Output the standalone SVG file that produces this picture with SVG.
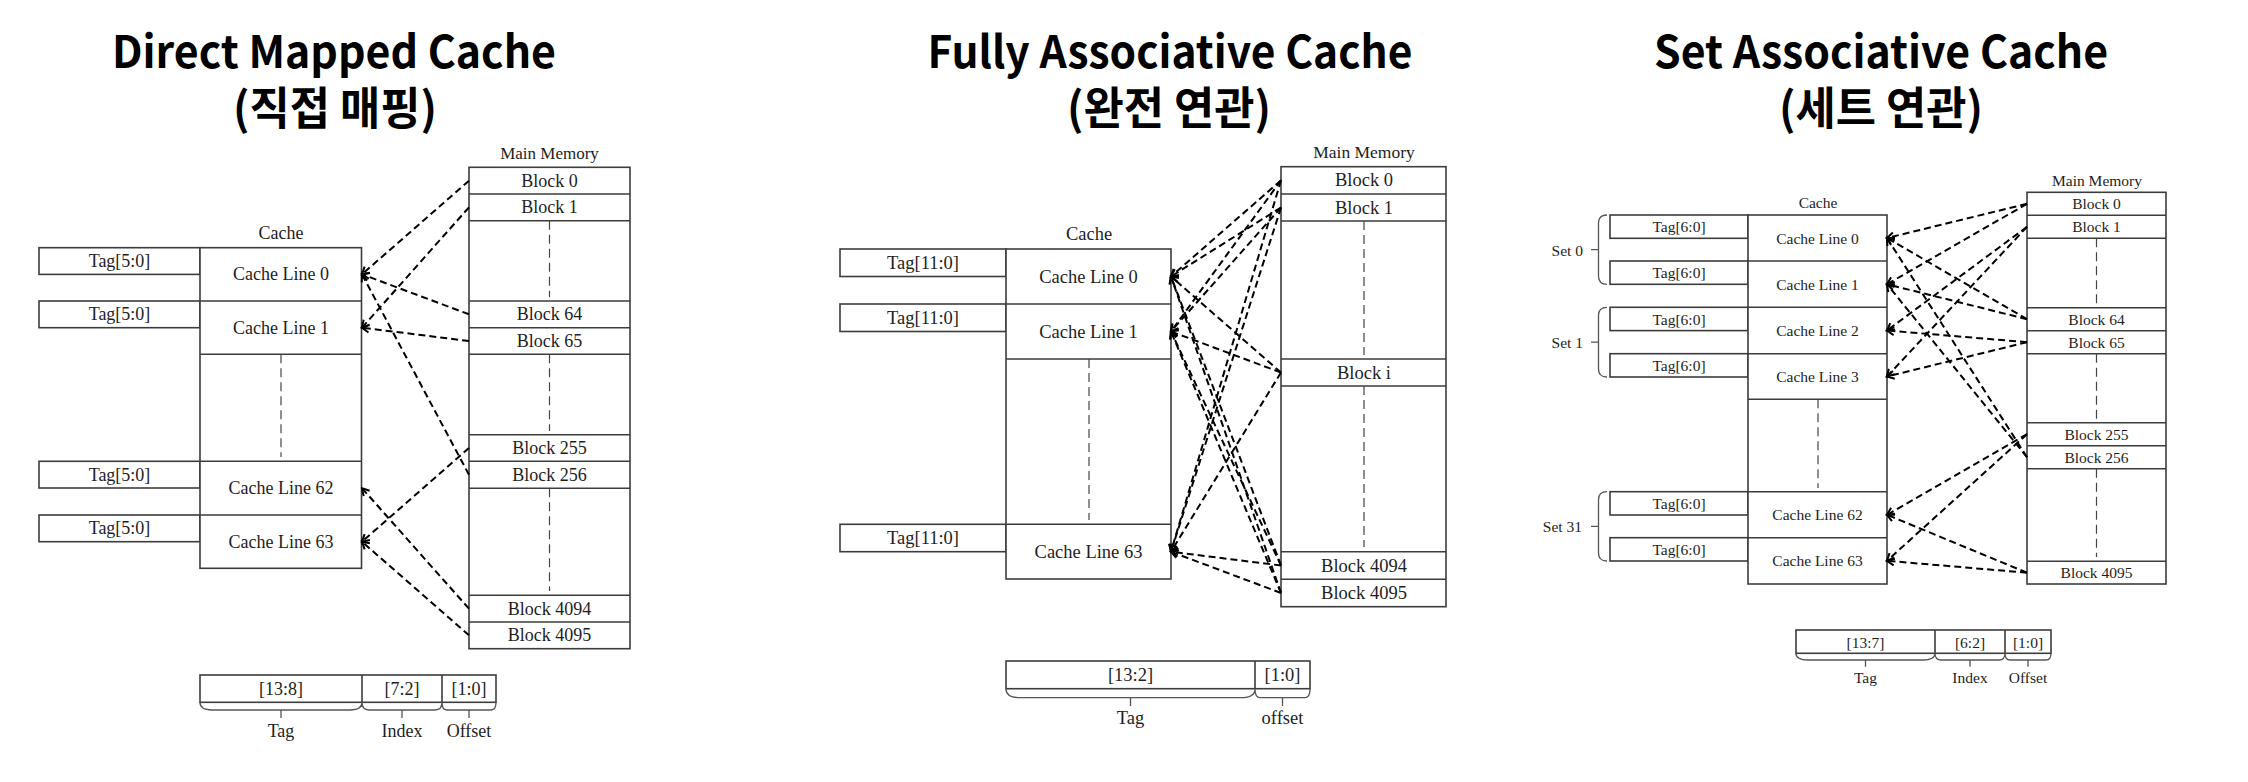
<svg xmlns="http://www.w3.org/2000/svg" width="2248" height="782" viewBox="0 0 2248 782">
<style>
.bg{fill:#fff}
.box{fill:#fff;stroke:#3c3c3c;stroke-width:1.6}
.sep{stroke:#3c3c3c;stroke-width:1.6;fill:none}
.cd{stroke:#444;stroke-width:1.2;stroke-dasharray:9 5;fill:none}
.br{stroke:#555;stroke-width:1.3;fill:none}
.conn{stroke:#000;stroke-width:2;stroke-dasharray:7 4;fill:none;marker-end:url(#ah)}
.title{font-family:"Noto Sans CJK KR","Noto Sans",sans-serif;font-weight:bold;font-size:45px;text-anchor:middle;fill:#000}
.t{font-family:"Liberation Serif",serif;fill:#1e1e1e;text-anchor:middle;dominant-baseline:central}
.s1{font-size:18px}
.s2{font-size:18.5px}
.s3{font-size:15.5px}
.end{text-anchor:end}
</style>
<defs>
<marker id="ah" markerUnits="userSpaceOnUse" markerWidth="10" markerHeight="12" viewBox="-8 -6 10 12" refX="0" refY="0" orient="auto">
<path d="M-7,-4 L0,0 L-7,4" fill="none" stroke="#000" stroke-width="2" stroke-dasharray="none"/>
</marker>
</defs>
<rect class="bg" x="0" y="0" width="2248" height="782"/>

<!-- Titles -->
<g id="titles">
<text class="title" x="334" y="68" textLength="444" lengthAdjust="spacingAndGlyphs">Direct Mapped Cache</text>
<text class="title" x="335" y="125" textLength="204" lengthAdjust="spacingAndGlyphs">(직접 매핑)</text>
<text class="title" x="1170" y="68" textLength="485" lengthAdjust="spacingAndGlyphs">Fully Associative Cache</text>
<text class="title" x="1169" y="125" textLength="204" lengthAdjust="spacingAndGlyphs">(완전 연관)</text>
<text class="title" x="1881" y="68" textLength="454" lengthAdjust="spacingAndGlyphs">Set Associative Cache</text>
<text class="title" x="1881" y="125" textLength="204" lengthAdjust="spacingAndGlyphs">(세트 연관)</text>
</g>

<!-- ================= Direct Mapped ================= -->
<g id="dm-tags">
<rect class="box" x="39" y="247.7" width="161" height="26.7"/>
<text class="t s1" x="119.5" y="261">Tag[5:0]</text>
<rect class="box" x="39" y="301" width="161" height="26.7"/>
<text class="t s1" x="119.5" y="314.3">Tag[5:0]</text>
<rect class="box" x="39" y="461.3" width="161" height="26.7"/>
<text class="t s1" x="119.5" y="474.7">Tag[5:0]</text>
<rect class="box" x="39" y="515" width="161" height="26.7"/>
<text class="t s1" x="119.5" y="528.3">Tag[5:0]</text>
</g>
<g id="dm-cache">
<text class="t s1" x="281" y="233">Cache</text>
<rect class="box" x="200" y="247.7" width="161.5" height="320.6"/>
<path class="sep" d="M200,301H361.5M200,354.3H361.5M200,461.3H361.5M200,515H361.5"/>
<path class="cd" d="M281,354.3V457"/>
<text class="t s1" x="281" y="274.3">Cache Line 0</text>
<text class="t s1" x="281" y="327.7">Cache Line 1</text>
<text class="t s1" x="281" y="488.2">Cache Line 62</text>
<text class="t s1" x="281" y="541.7">Cache Line 63</text>
</g>
<g id="dm-memory">
<text class="t s1" x="549.5" y="153" style="font-size:17px">Main Memory</text>
<rect class="box" x="469" y="167.3" width="161" height="481.4"/>
<path class="sep" d="M469,194H630M469,220.7H630M469,301H630M469,327.7H630M469,354.3H630M469,434.7H630M469,461.3H630M469,488.3H630M469,595.3H630M469,622H630"/>
<path class="cd" d="M549.5,220.7V297M549.5,354.3V431M549.5,488.3V591"/>
<text class="t s1" x="549.5" y="180.7">Block 0</text>
<text class="t s1" x="549.5" y="207.3">Block 1</text>
<text class="t s1" x="549.5" y="314.3">Block 64</text>
<text class="t s1" x="549.5" y="341">Block 65</text>
<text class="t s1" x="549.5" y="448">Block 255</text>
<text class="t s1" x="549.5" y="474.8">Block 256</text>
<text class="t s1" x="549.5" y="608.7">Block 4094</text>
<text class="t s1" x="549.5" y="635.3">Block 4095</text>
</g>
<g id="dm-address">
<rect class="box" x="200" y="675" width="296" height="27.3"/>
<path class="sep" d="M362,675V702.3M442,675V702.3"/>
<path class="br" d="M200,702.3Q200,710 212,710H350Q362,710 362,702.3M362,702.3Q362,710 369,710H435Q442,710 442,702.3M442,702.3Q442,710 447,710H491Q496,710 496,702.3"/>
<path class="br" d="M281,710V718M402,710V718M469,710V718"/>
<text class="t s1" x="281" y="689">[13:8]</text>
<text class="t s1" x="402" y="689">[7:2]</text>
<text class="t s1" x="469" y="689">[1:0]</text>
<text class="t s1" x="281" y="731">Tag</text>
<text class="t s1" x="402" y="731">Index</text>
<text class="t s1" x="469" y="731">Offset</text>
</g>
<g id="dm-connectors">
<path class="conn" d="M469,180.7L362,274.3"/>
<path class="conn" d="M469,314.3L362,274.3"/>
<path class="conn" d="M469,474.8L362,274.3"/>
<path class="conn" d="M469,207.3L362,327.7"/>
<path class="conn" d="M469,341L362,327.7"/>
<path class="conn" d="M469,608.7L362,488.2"/>
<path class="conn" d="M469,448L362,541.7"/>
<path class="conn" d="M469,635.3L362,541.7"/>
</g>

<!-- ================= Fully Associative ================= -->
<g id="fa-tags">
<rect class="box" x="840" y="249" width="166" height="27.5"/>
<text class="t s2" x="923" y="262.8">Tag[11:0]</text>
<rect class="box" x="840" y="304" width="166" height="27.5"/>
<text class="t s2" x="923" y="317.8">Tag[11:0]</text>
<rect class="box" x="840" y="524.3" width="166" height="27.4"/>
<text class="t s2" x="923" y="538">Tag[11:0]</text>
</g>
<g id="fa-cache">
<text class="t s2" x="1089" y="234">Cache</text>
<rect class="box" x="1006" y="249" width="165" height="330"/>
<path class="sep" d="M1006,304H1171M1006,359H1171M1006,524.3H1171"/>
<path class="cd" d="M1089,359V520"/>
<text class="t s2" x="1088.5" y="276.5">Cache Line 0</text>
<text class="t s2" x="1088.5" y="331.5">Cache Line 1</text>
<text class="t s2" x="1088.5" y="551.7">Cache Line 63</text>
</g>
<g id="fa-memory">
<text class="t s2" x="1364" y="152" style="font-size:17.5px">Main Memory</text>
<rect class="box" x="1281" y="166.7" width="165" height="440"/>
<path class="sep" d="M1281,194H1446M1281,221H1446M1281,359H1446M1281,386H1446M1281,551.7H1446M1281,579.3H1446"/>
<path class="cd" d="M1364,221V355M1364,386V547"/>
<text class="t s2" x="1364" y="180.3">Block 0</text>
<text class="t s2" x="1364" y="207.5">Block 1</text>
<text class="t s2" x="1364" y="372.5">Block i</text>
<text class="t s2" x="1364" y="565.5">Block 4094</text>
<text class="t s2" x="1364" y="593">Block 4095</text>
</g>
<g id="fa-address">
<rect class="box" x="1006" y="661" width="304" height="27.7"/>
<path class="sep" d="M1255,661V688.7"/>
<path class="br" d="M1006,688.7Q1006,697.7 1020,697.7H1241Q1255,697.7 1255,688.7M1255,688.7Q1255,697.7 1260,697.7H1305Q1310,697.7 1310,688.7"/>
<path class="br" d="M1130.5,697.7V706M1282.5,697.7V706"/>
<text class="t s2" x="1130.5" y="675">[13:2]</text>
<text class="t s2" x="1282.5" y="675">[1:0]</text>
<text class="t s2" x="1130.5" y="718">Tag</text>
<text class="t s2" x="1282.5" y="718">offset</text>
</g>
<g id="fa-connectors">
<path class="conn" d="M1281,180.3L1171,276.5"/>
<path class="conn" d="M1281,207.5L1171,276.5"/>
<path class="conn" d="M1281,372.5L1171,276.5"/>
<path class="conn" d="M1281,565.5L1171,276.5"/>
<path class="conn" d="M1281,593L1171,276.5"/>
<path class="conn" d="M1281,180.3L1171,331.5"/>
<path class="conn" d="M1281,207.5L1171,331.5"/>
<path class="conn" d="M1281,372.5L1171,331.5"/>
<path class="conn" d="M1281,565.5L1171,331.5"/>
<path class="conn" d="M1281,593L1171,331.5"/>
<path class="conn" d="M1281,180.3L1171,551.7"/>
<path class="conn" d="M1281,207.5L1171,551.7"/>
<path class="conn" d="M1281,372.5L1171,551.7"/>
<path class="conn" d="M1281,565.5L1171,551.7"/>
<path class="conn" d="M1281,593L1171,551.7"/>
</g>

<!-- ================= Set Associative ================= -->
<g id="sa-sets">
<path class="br" d="M1607,215Q1598.5,215 1598.5,223V276Q1598.5,284.3 1607,284.3M1598.5,249.7H1591"/>
<text class="t s3 end" x="1583" y="250">Set 0</text>
<path class="br" d="M1607,307.3Q1598.5,307.3 1598.5,315.3V369Q1598.5,377 1607,377M1598.5,342.2H1591"/>
<text class="t s3 end" x="1583" y="342.3">Set 1</text>
<path class="br" d="M1607,491.7Q1598.5,491.7 1598.5,499.7V553Q1598.5,561 1607,561M1598.5,526.3H1591"/>
<text class="t s3 end" x="1582" y="526.7">Set 31</text>
</g>
<g id="sa-tags">
<rect class="box" x="1610" y="215" width="138" height="23.3"/>
<text class="t s3" x="1679" y="226.7">Tag[6:0]</text>
<rect class="box" x="1610" y="261" width="138" height="23.3"/>
<text class="t s3" x="1679" y="272.7">Tag[6:0]</text>
<rect class="box" x="1610" y="307.3" width="138" height="23.3"/>
<text class="t s3" x="1679" y="319">Tag[6:0]</text>
<rect class="box" x="1610" y="353.7" width="138" height="23.3"/>
<text class="t s3" x="1679" y="365.3">Tag[6:0]</text>
<rect class="box" x="1610" y="491.7" width="138" height="23.3"/>
<text class="t s3" x="1679" y="503.3">Tag[6:0]</text>
<rect class="box" x="1610" y="537.7" width="138" height="23.3"/>
<text class="t s3" x="1679" y="549.3">Tag[6:0]</text>
</g>
<g id="sa-cache">
<text class="t s3" x="1818" y="202.7">Cache</text>
<rect class="box" x="1748" y="215" width="139" height="369"/>
<path class="sep" d="M1748,261H1887M1748,307.3H1887M1748,353.7H1887M1748,399.3H1887M1748,491.7H1887M1748,537.7H1887"/>
<path class="cd" d="M1818,399.3V488"/>
<text class="t s3" x="1817.5" y="238">Cache Line 0</text>
<text class="t s3" x="1817.5" y="284.2">Cache Line 1</text>
<text class="t s3" x="1817.5" y="330.5">Cache Line 2</text>
<text class="t s3" x="1817.5" y="376.5">Cache Line 3</text>
<text class="t s3" x="1817.5" y="514.8">Cache Line 62</text>
<text class="t s3" x="1817.5" y="560.8">Cache Line 63</text>
</g>
<g id="sa-memory">
<text class="t s3" x="2097" y="180">Main Memory</text>
<rect class="box" x="2027" y="192.3" width="139" height="391.7"/>
<path class="sep" d="M2027,215.3H2166M2027,238.3H2166M2027,307.7H2166M2027,330.7H2166M2027,353.7H2166M2027,422.7H2166M2027,445.7H2166M2027,468.7H2166M2027,561.3H2166"/>
<path class="cd" d="M2096.5,238.3V304M2096.5,353.7V419M2096.5,468.7V557"/>
<text class="t s3" x="2096.5" y="203.8">Block 0</text>
<text class="t s3" x="2096.5" y="226.8">Block 1</text>
<text class="t s3" x="2096.5" y="319.2">Block 64</text>
<text class="t s3" x="2096.5" y="342.2">Block 65</text>
<text class="t s3" x="2096.5" y="434.2">Block 255</text>
<text class="t s3" x="2096.5" y="457.2">Block 256</text>
<text class="t s3" x="2096.5" y="572.7">Block 4095</text>
</g>
<g id="sa-address">
<rect class="box" x="1796" y="630" width="255" height="23.3"/>
<path class="sep" d="M1935,630V653.3M2005,630V653.3"/>
<path class="br" d="M1796,653.3Q1796,660 1808,660H1923Q1935,660 1935,653.3M1935,653.3Q1935,660 1941,660H1999Q2005,660 2005,653.3M2005,653.3Q2005,660 2010,660H2046Q2051,660 2051,653.3"/>
<path class="br" d="M1865.5,660V666.7M1970,660V666.7M2028,660V666.7"/>
<text class="t s3" x="1865.5" y="642">[13:7]</text>
<text class="t s3" x="1970" y="642">[6:2]</text>
<text class="t s3" x="2028" y="642">[1:0]</text>
<text class="t s3" x="1865.5" y="677.3">Tag</text>
<text class="t s3" x="1970" y="677.3">Index</text>
<text class="t s3" x="2028" y="677.3">Offset</text>
</g>
<g id="sa-connectors">
<path class="conn" d="M2027,203.8L1887,238"/>
<path class="conn" d="M2027,319.2L1887,238"/>
<path class="conn" d="M2027,457.2L1887,238"/>
<path class="conn" d="M2027,203.8L1887,284.2"/>
<path class="conn" d="M2027,319.2L1887,284.2"/>
<path class="conn" d="M2027,457.2L1887,284.2"/>
<path class="conn" d="M2027,226.8L1887,330.5"/>
<path class="conn" d="M2027,342.2L1887,330.5"/>
<path class="conn" d="M2027,226.8L1887,376.5"/>
<path class="conn" d="M2027,342.2L1887,376.5"/>
<path class="conn" d="M2027,434.2L1887,514.8"/>
<path class="conn" d="M2027,572.7L1887,514.8"/>
<path class="conn" d="M2027,434.2L1887,560.8"/>
<path class="conn" d="M2027,572.7L1887,560.8"/>
</g>
</svg>
